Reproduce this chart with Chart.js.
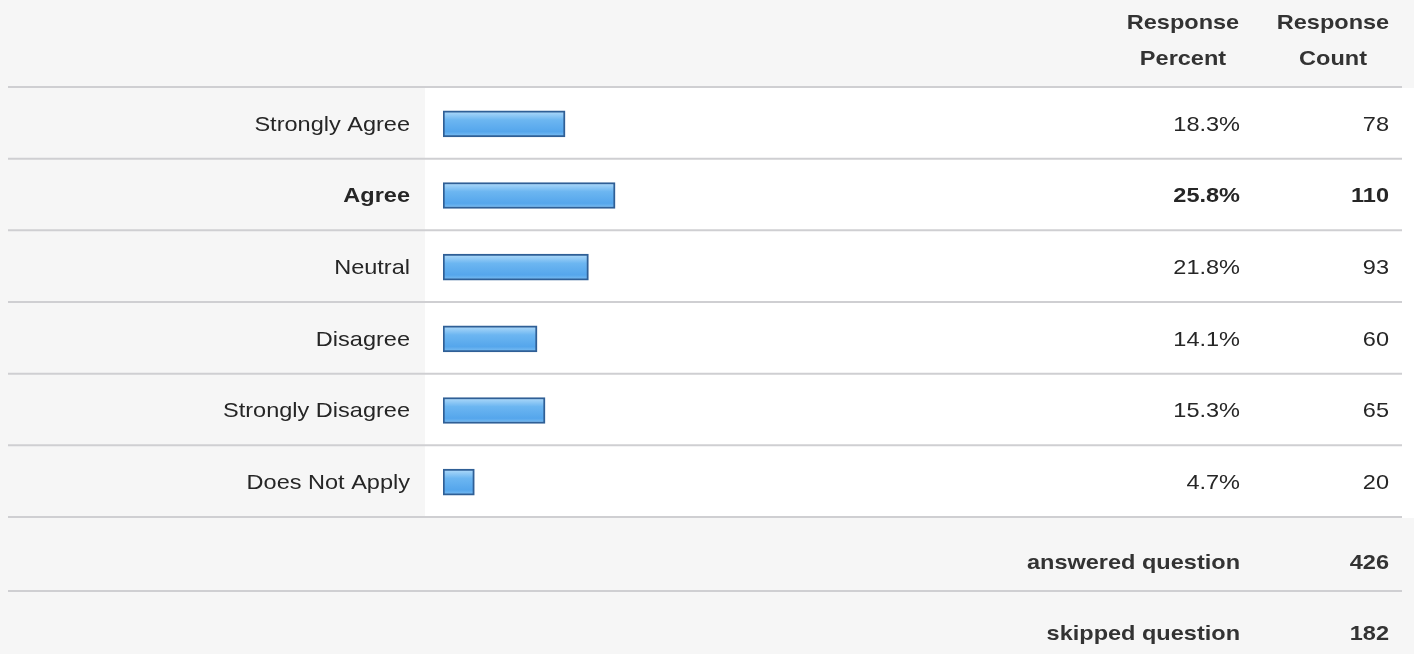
<!DOCTYPE html>
<html>
<head>
<meta charset="utf-8">
<script src="https://cdn.jsdelivr.net/npm/chart.js@4/dist/chart.umd.min.js"></script>
<style>
  html, body { margin: 0; padding: 0; background: #f6f6f6; }
  #wrap { position: relative; width: 1414px; height: 654px; }
</style>
</head>
<body>
<div id="wrap"><canvas id="chart"></canvas></div>
<script>
'use strict'

/* global Chart */

const categories = ['Strongly Agree', 'Agree', 'Neutral', 'Disagree', 'Strongly Disagree', 'Does Not Apply']
const percents = [18.3, 25.8, 21.8, 14.1, 15.3, 4.7]
const counts = [78, 110, 93, 60, 65, 20]
const boldRow = 1
const summaryLabels = ['answered question', 'skipped question']
const summaryCounts = [426, 182]
const headerLines = [['Response', 'Percent'], ['Response', 'Count']]

const FONT = '"Liberation Sans", Arial, sans-serif'
const STRETCH = 1.12

// scanned text is a bit wider than tall, so stretch it horizontally
function stretchedText (ctx, text, x, y, align, bold, color) {
  ctx.save()
  ctx.font = (bold ? 'bold ' : '') + '21px ' + FONT
  ctx.fillStyle = color || '#262626'
  ctx.textBaseline = 'middle'
  ctx.textAlign = align
  ctx.translate(x, y)
  ctx.scale(STRETCH, 1)
  ctx.fillText(text, 0, 0)
  ctx.restore()
}

function hLine (ctx, y) {
  ctx.save()
  ctx.strokeStyle = '#cfcfd2'
  ctx.lineWidth = 2
  ctx.beginPath()
  ctx.moveTo(8, y)
  ctx.lineTo(1402, y)
  ctx.stroke()
  ctx.restore()
}

const tablePlugin = {
  id: 'surveyTable',
  beforeDraw (chart) {
    const ctx = chart.ctx
    const y = chart.scales.y
    const top = chart.chartArea.top
    const bottom = chart.chartArea.bottom
    ctx.save()
    ctx.fillStyle = '#f6f6f6'
    ctx.fillRect(0, 0, chart.width, chart.height)
    ctx.fillStyle = '#ffffff'
    ctx.fillRect(425, top, chart.width - 425, bottom - top)
    ctx.restore()

    const rowH = (bottom - top) / categories.length
    for (let i = 0; i <= categories.length; i++) {
      hLine(ctx, top - 1 + i * rowH)
    }
    hLine(ctx, bottom + 73)

    // header
    headerLines[0].forEach((t, i) => stretchedText(ctx, t, 1183, 23 + i * 36, 'center', true, '#333'))
    headerLines[1].forEach((t, i) => stretchedText(ctx, t, 1333, 23 + i * 36, 'center', true, '#333'))

    // rows
    categories.forEach((c, i) => {
      const cy = y.getPixelForValue(i) + 1
      const b = i === boldRow
      stretchedText(ctx, c, 410, cy, 'right', b)
      stretchedText(ctx, percents[i].toFixed(1) + '%', 1240, cy, 'right', b)
      stretchedText(ctx, String(counts[i]), 1389, cy, 'right', b)
    })

    summaryLabels.forEach((s, i) => {
      const cy = bottom + 45 + i * 71
      stretchedText(ctx, s, 1240, cy, 'right', true, '#333')
      stretchedText(ctx, String(summaryCounts[i]), 1389, cy, 'right', true, '#333')
    })
  }
}

function barFill (context) {
  const chart = context.chart
  if (!chart.chartArea || !chart.scales.y) return '#67b2ef'
  const cy = chart.scales.y.getPixelForValue(context.dataIndex)
  const g = chart.ctx.createLinearGradient(0, cy - 13, 0, cy + 13)
  g.addColorStop(0, '#b3dcfa')
  g.addColorStop(0.35, '#6cb6f1')
  g.addColorStop(0.8, '#55a6ec')
  g.addColorStop(1, '#7fc0f3')
  return g
}

const chart = new Chart(document.getElementById('chart'), {
  type: 'bar',
  data: {
    labels: categories,
    datasets: [{
      label: 'Response Percent',
      data: percents,
      backgroundColor: barFill,
      borderColor: '#2f5f96',
      borderWidth: 2,
      borderSkipped: false,
      barThickness: 26
    }]
  },
  plugins: [tablePlugin],
  options: {
    indexAxis: 'y',
    responsive: true,
    maintainAspectRatio: false,
    animation: false,
    devicePixelRatio: 1,
    layout: {
      padding: { left: 443, right: 304, top: 88, bottom: 136 }
    },
    plugins: {
      legend: { display: false },
      tooltip: { enabled: false }
    },
    scales: {
      x: {
        display: false,
        min: 0,
        max: 100
      },
      y: {
        display: false,
        grid: { display: false }
      }
    }
  }
})
</script>
</body>
</html>
